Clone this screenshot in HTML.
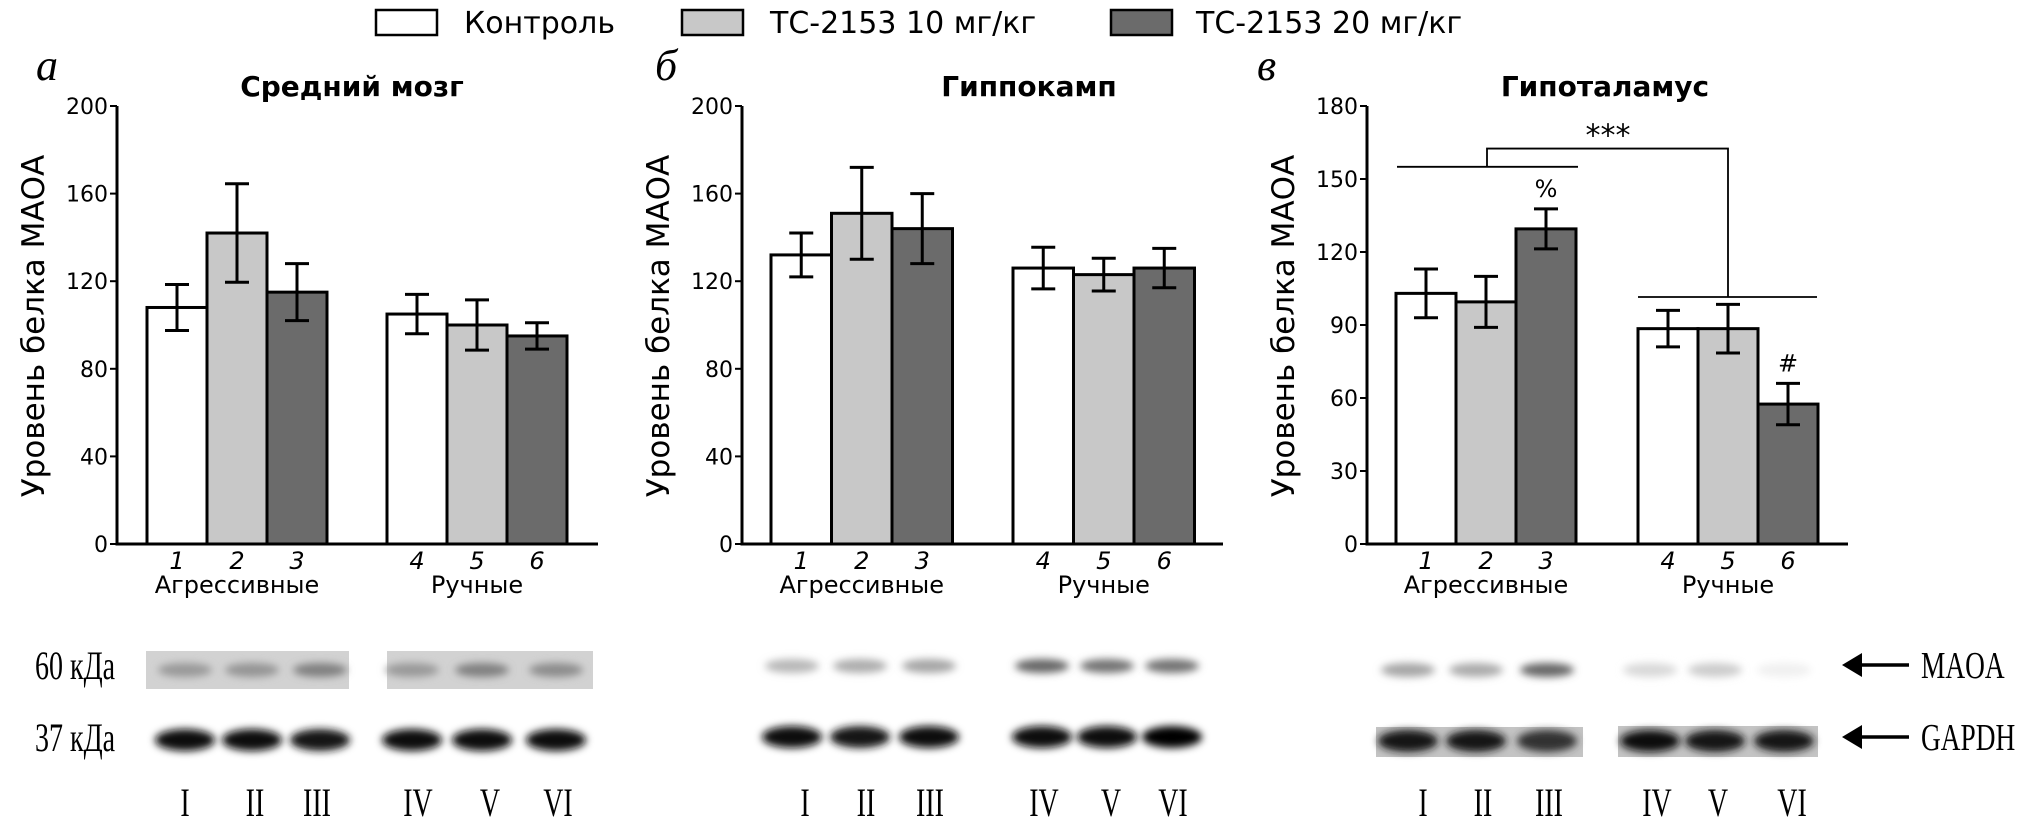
<!DOCTYPE html>
<html><head><meta charset="utf-8">
<style>
html,body{margin:0;padding:0;background:#fff;}
svg{display:block;}
text{font-family:"DejaVu Sans","Liberation Sans",sans-serif;}
.serif{font-family:"Liberation Serif","DejaVu Serif",serif;}
</style></head>
<body>
<svg id="fig" width="2043" height="830" viewBox="0 0 2043 830" xmlns="http://www.w3.org/2000/svg">
<defs>
<filter id="blur2" x="-50%" y="-100%" width="200%" height="300%"><feGaussianBlur stdDeviation="4"/></filter>
</defs>
<g>
<rect x="376" y="10" width="61" height="25" fill="#fff" stroke="#000" stroke-width="2.5"/>
<text x="464" y="33" font-size="30">Контроль</text>
<rect x="682" y="10" width="61" height="25" fill="#c8c8c8" stroke="#000" stroke-width="2.5"/>
<text x="770" y="33" font-size="30">ТС-2153 10 мг/кг</text>
<rect x="1111" y="10" width="61" height="25" fill="#6b6b6b" stroke="#000" stroke-width="2.5"/>
<text x="1196" y="33" font-size="30">ТС-2153 20 мг/кг</text>
</g>
<g id="charts"></g>
<g id="blots"></g>
</svg>
<script>
const categories = ["1","2","3","4","5","6"];
const groupLabels = ["Агрессивные","Ручные"];
const midbrainValues = [108, 142, 115, 105, 100, 95];
const midbrainErrors = [10.5, 22.5, 13, 9, 11.5, 6];
const hippoValues = [132, 151, 144, 126, 123, 126];
const hippoErrors = [10, 21, 16, 9.5, 7.5, 9];
const hypoValues = [103, 99.5, 129.5, 88.5, 88.5, 57.5];
const hypoErrors = [10, 10.5, 8.2, 7.5, 10, 8.5];
const ticks200 = [0, 40, 80, 120, 160, 200];
const ticks180 = [0, 30, 60, 90, 120, 150, 180];
const fills = ["#ffffff","#c8c8c8","#6b6b6b"];

const NS = "http://www.w3.org/2000/svg";
function mk(tag, attrs, parent){
  const e = document.createElementNS(NS, tag);
  for (const k in attrs) e.setAttribute(k, attrs[k]);
  parent.appendChild(e);
  return e;
}
const charts = document.getElementById('charts');
const panels = [
  {key:'a', letter:'а', title:'Средний мозг', axisX:117, axisEnd:598, g1:147, g2:387, w:60, max:200, ticks:ticks200, values:midbrainValues, errors:midbrainErrors, titleX:352, letterX:36},
  {key:'b', letter:'б', title:'Гиппокамп', axisX:742, axisEnd:1223, g1:771, g2:1013, w:60.5, max:200, ticks:ticks200, values:hippoValues, errors:hippoErrors, titleX:1029, letterX:655},
  {key:'c', letter:'в', title:'Гипоталамус', axisX:1367, axisEnd:1848, g1:1396, g2:1638, w:60, max:180, ticks:ticks180, values:hypoValues, errors:hypoErrors, titleX:1605, letterX:1257}
];
const TOP = 106, BOT = 544;
panels.forEach(p => {
  const g = mk('g', {}, charts);
  
  
  const y = v => BOT - (v / p.max) * (BOT - TOP);
  const bx = i => (i < 3 ? p.g1 + i * p.w : p.g2 + (i - 3) * p.w);
  const lt = mk('text', {x:p.letterX, y:80, 'font-size':44, 'font-style':'italic', class:'serif'}, g);
  lt.textContent = p.letter;
  
  
  const tt = mk('text', {x:p.titleX, y:96, 'font-size':28, 'font-weight':'bold', 'text-anchor':'middle'}, g);
  tt.textContent = p.title;
  
  
  const yl = mk('text', {x:0, y:0, 'font-size':31, 'text-anchor':'middle', transform:`translate(${p.axisX-73},326) rotate(-90)`}, g);
  yl.textContent = 'Уровень белка МАОА';
  
  
  p.values.forEach((v, i) => {
    const r = mk('rect', {x:bx(i), y:y(v), width:p.w, height:BOT - y(v), fill:fills[i % 3], stroke:'#000', 'stroke-width':3}, g);
    
    
    const cx = bx(i) + p.w / 2, e = p.errors[i];
    const eb = mk('path', {d:`M${cx},${y(v+e)}V${y(v-e)}M${cx-12},${y(v+e)}H${cx+12}M${cx-12},${y(v-e)}H${cx+12}`, stroke:'#000', 'stroke-width':3, fill:'none'}, g);
    
    
    const ct = mk('text', {x:cx, y:569, 'font-size':24, 'font-style':'italic', 'text-anchor':'middle'}, g);
    ct.textContent = categories[i];
    
    
  });
  groupLabels.forEach((gl, k) => {
    const cx = (k === 0 ? p.g1 : p.g2) + 1.5 * p.w;
    const t = mk('text', {x:cx, y:593, 'font-size':24, 'text-anchor':'middle'}, g);
    t.textContent = gl;
    
    
  });
  const ax = mk('path', {d:`M${p.axisX},${TOP}V${BOT}H${p.axisEnd}`, stroke:'#000', 'stroke-width':3, fill:'none'}, g);
  
  
  p.ticks.forEach(t => {
    const tk = mk('line', {x1:p.axisX-7, x2:p.axisX, y1:y(t), y2:y(t), stroke:'#000', 'stroke-width':2}, g);
    
    
    const tl = mk('text', {x:p.axisX-9, y:y(t)+8, 'font-size':22, 'text-anchor':'end'}, g);
    tl.textContent = t;
    
    
  });
  if (p.key === 'c') {
    const br = mk('path', {d:`M1397,${y(155)}H1578M1487,${y(155)}V${y(162.5)}H1728V${y(101.5)}M1638,${y(101.5)}H1817`, stroke:'#000', 'stroke-width':1.8, fill:'none'}, g);
    
    
    const s = mk('text', {x:1608, y:y(162.5)-3, 'font-size':30, 'text-anchor':'middle'}, g);
    s.textContent = '***';
    
    
    const pc = mk('text', {x:bx(2)+p.w/2, y:y(p.values[2]+p.errors[2])-12, 'font-size':24, 'text-anchor':'middle'}, g);
    pc.textContent = '%';
    
    
    const hs = mk('text', {x:bx(5)+p.w/2, y:y(p.values[5]+p.errors[5])-12, 'font-size':24, 'text-anchor':'middle'}, g);
    hs.textContent = '#';
    
    
  }
});

// Western blots
const blots = document.getElementById('blots');
const bandsA = [185,252,320,412,482,556];
const bandsB = [792,860,929,1042,1107,1172];
const bandsC = [1408,1476,1547,1650,1715,1784];
const numeralsA = [185,255,317,418,490,558];
const numeralsB = [805,866,930,1044,1111,1173];
const numeralsC = [1423,1483,1549,1657,1718,1792];
const maoaA = [0.4,0.42,0.5,0.4,0.5,0.45];
const maoaB = [0.28,0.32,0.35,0.6,0.55,0.55];
const maoaC = [0.35,0.33,0.6,0.15,0.2,0.06];
const gapdhA = [0.95,0.95,0.92,0.97,0.95,0.97];
const gapdhB = [0.95,0.9,0.97,0.95,0.97,0.98];
const gapdhC = [0.9,0.9,0.8,0.95,0.93,0.9];
const romans = ["I","II","III","IV","V","VI"];
function gray(a){ const v = Math.round(255*(1-a)); return `rgb(${v},${v},${v})`; }
const bgs = [[146,651,203,38,'#d2d2d2'],[387,651,206,38,'#d2d2d2'],[1376,727,207,30,'#c4c4c4'],[1618,726,200,31,'#c4c4c4']];
bgs.forEach(b => {
  const r = mk('rect', {x:b[0], y:b[1], width:b[2], height:b[3], fill:b[4]}, blots);
  
  
});
[[bandsA,maoaA,gapdhA,670,740,numeralsA],[bandsB,maoaB,gapdhB,666,737,numeralsB],[bandsC,maoaC,gapdhC,670,741,numeralsC]].forEach(set => {
  set[0].forEach((x, i) => {
    const m = mk('ellipse', {cx:x, cy:set[3], rx:27, ry:7, fill:gray(set[1][i]), filter:'url(#blur2)'}, blots);
    
    
    const gb = mk('ellipse', {cx:x, cy:set[4], rx:30, ry:11, fill:gray(set[2][i]), filter:'url(#blur2)'}, blots);
    
    
  });
  set[5].forEach((x, i) => {
    const rt = mk('text', {x:x, y:816, 'font-size':40, 'text-anchor':'middle', class:'serif', transform:`translate(${x},0) scale(0.7,1) translate(${-x},0)`}, blots);
    rt.textContent = romans[i];
    
    
  });
});
[["60 кДа",679],["37 кДа",751]].forEach(d => {
  const t = mk('text', {x:35, y:d[1], 'font-size':40, class:'serif', transform:'translate(35,0) scale(0.7,1) translate(-35,0)'}, blots);
  t.textContent = d[0];
  
  
});
[["MAOA",665,678],["GAPDH",737,750]].forEach(d => {
  const ar = mk('path', {d:`M1909,${d[1]}H1858`, stroke:'#000', 'stroke-width':3.5}, blots);
  
  
  const ah = mk('path', {d:`M1842,${d[1]}L1862,${d[1]-12}L1862,${d[1]+12}Z`, fill:'#000'}, blots);
  
  
  const t = mk('text', {x:1921, y:d[2], 'font-size':38, class:'serif', transform:'translate(1921,0) scale(0.72,1) translate(-1921,0)'}, blots);
  t.textContent = d[0];
  
  
});
</script>
</body></html>
